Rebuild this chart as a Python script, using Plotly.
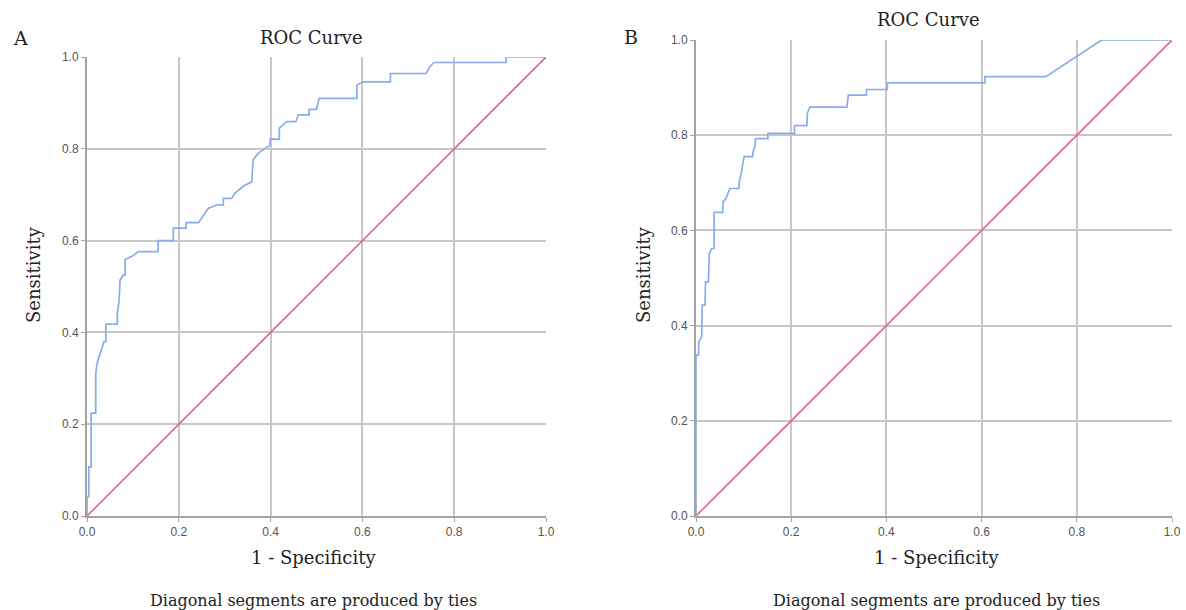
import plotly.graph_objects as go

# Panel A ROC curve (1 - specificity, sensitivity)
fpr_a = [0.000, 0.000, 0.004, 0.004, 0.009, 0.009, 0.019, 0.019, 0.022, 0.033, 0.037, 0.041, 0.041,
         0.066, 0.066, 0.070, 0.072, 0.079, 0.083, 0.083, 0.090, 0.100, 0.112, 0.155, 0.155, 0.188,
         0.188, 0.216, 0.216, 0.243, 0.264, 0.283, 0.297, 0.297, 0.315, 0.322, 0.341, 0.359, 0.362,
         0.373, 0.388, 0.399, 0.399, 0.419, 0.419, 0.435, 0.455, 0.460, 0.484, 0.484, 0.500, 0.506,
         0.588, 0.588, 0.602, 0.661, 0.661, 0.739, 0.747, 0.756, 0.913, 0.913, 1.000]
tpr_a = [0.000, 0.042, 0.042, 0.107, 0.107, 0.224, 0.224, 0.310, 0.333, 0.369, 0.380, 0.380, 0.418,
         0.418, 0.440, 0.469, 0.514, 0.525, 0.525, 0.559, 0.562, 0.567, 0.576, 0.576, 0.600, 0.600,
         0.627, 0.627, 0.639, 0.639, 0.670, 0.678, 0.678, 0.692, 0.692, 0.703, 0.719, 0.728, 0.776,
         0.790, 0.801, 0.808, 0.821, 0.821, 0.845, 0.859, 0.859, 0.874, 0.874, 0.886, 0.886, 0.910,
         0.910, 0.939, 0.946, 0.946, 0.964, 0.964, 0.979, 0.988, 0.988, 1.000, 1.000]

# Panel B ROC curve
fpr_b = [0.000, 0.000, 0.005, 0.006, 0.012, 0.013, 0.019, 0.020, 0.026, 0.028, 0.033, 0.038, 0.038,
         0.056, 0.057, 0.063, 0.071, 0.090, 0.091, 0.095, 0.101, 0.119, 0.120, 0.124, 0.125, 0.151,
         0.151, 0.207, 0.207, 0.233, 0.234, 0.239, 0.317, 0.320, 0.358, 0.358, 0.402, 0.402, 0.607,
         0.607, 0.735, 0.852, 1.000]
tpr_b = [0.000, 0.338, 0.338, 0.366, 0.377, 0.443, 0.443, 0.492, 0.492, 0.552, 0.562, 0.562, 0.638,
         0.638, 0.660, 0.667, 0.688, 0.688, 0.702, 0.720, 0.755, 0.755, 0.766, 0.776, 0.793, 0.793,
         0.804, 0.804, 0.820, 0.820, 0.846, 0.859, 0.859, 0.884, 0.884, 0.896, 0.896, 0.910, 0.910,
         0.923, 0.923, 1.000, 1.000]

ref_line = [0.0, 1.0]
tick_vals = [0.0, 0.2, 0.4, 0.6, 0.8, 1.0]
tick_text = ["0.0", "0.2", "0.4", "0.6", "0.8", "1.0"]

W, H = 1186, 610
BLUE = "#88adea"
RED = "#dc6a82"
SERIF = "DejaVu Serif, Liberation Serif, serif"

fig = go.Figure()
fig.add_trace(go.Scatter(x=ref_line, y=ref_line, mode="lines", line=dict(color=RED, width=1.6),
                         xaxis="x", yaxis="y", showlegend=False, hoverinfo="skip"))
fig.add_trace(go.Scatter(x=fpr_a, y=tpr_a, mode="lines", line=dict(color=BLUE, width=1.7),
                         xaxis="x", yaxis="y", showlegend=False))
fig.add_trace(go.Scatter(x=ref_line, y=ref_line, mode="lines", line=dict(color=RED, width=1.6),
                         xaxis="x2", yaxis="y2", showlegend=False, hoverinfo="skip"))
fig.add_trace(go.Scatter(x=fpr_b, y=tpr_b, mode="lines", line=dict(color=BLUE, width=1.7),
                         xaxis="x2", yaxis="y2", showlegend=False))

def px_x(p):
    return p / W

def px_y(p):
    return 1 - p / H

axis_common = dict(range=[0, 1], tickvals=tick_vals, ticktext=tick_text, showgrid=True,
                   gridcolor="#c8c8c8", gridwidth=1.5, showline=True, linecolor="#a3a3a3",
                   linewidth=2, ticks="outside", ticklen=4, tickcolor="#a3a3a3",
                   tickfont=dict(family="Liberation Sans, Arial, sans-serif", size=12, color="#555555"),
                   zeroline=False, fixedrange=True, automargin=False)

fig.update_layout(
    width=W, height=H,
    margin=dict(l=0, r=0, t=0, b=0, autoexpand=False),
    paper_bgcolor="white", plot_bgcolor="white",
    xaxis=dict(domain=[px_x(87), px_x(546)], anchor="y", **axis_common),
    yaxis=dict(domain=[px_y(516), px_y(57)], anchor="x", **axis_common),
    xaxis2=dict(domain=[px_x(696), px_x(1172)], anchor="y2", **axis_common),
    yaxis2=dict(domain=[px_y(516), px_y(40)], anchor="x2", **axis_common),
)

def ann(text, x, y, size, angle=0):
    fig.add_annotation(text=text, x=px_x(x), y=px_y(y), xref="paper", yref="paper",
                       showarrow=False, xanchor="center", yanchor="middle", textangle=angle,
                       font=dict(family=SERIF, size=size, color="#222222"))

ann("A", 20, 38, 19)
ann("B", 631, 37, 19)
ann("ROC Curve", 311, 37, 18)
ann("ROC Curve", 928, 19, 18)
ann("Sensitivity", 34, 275, 18, -90)
ann("Sensitivity", 644, 275, 18, -90)
ann("1 - Specificity", 313, 557, 18)
ann("1 - Specificity", 936, 557, 18)
ann("Diagonal segments are produced by ties", 313, 600, 16)
ann("Diagonal segments are produced by ties", 936, 600, 16)

fig.write_html("out.html", config={"displayModeBar": False},
               post_script="document.body.style.margin='0px';document.body.style.overflow='hidden';")
